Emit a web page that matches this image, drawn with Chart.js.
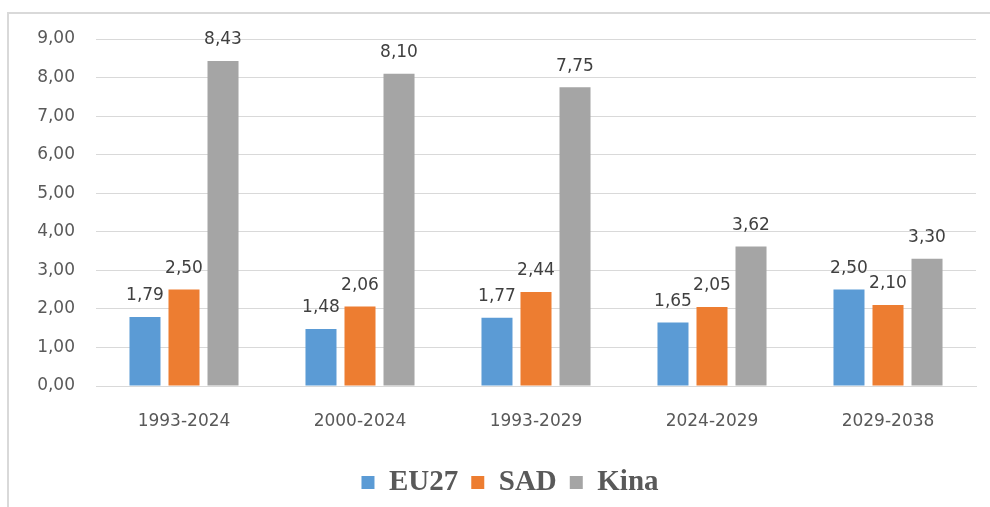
<!DOCTYPE html>
<html>
<head>
<meta charset="utf-8">
<script src="https://cdn.jsdelivr.net/npm/chart.js@4/dist/chart.umd.min.js"></script>
<style>
  html, body { margin: 0; padding: 0; background: #fff; overflow: hidden; }
  #wrap { width: 990px; height: 507px; position: relative; }
</style>
</head>
<body>
<div id="wrap"><canvas id="c" width="990" height="507"></canvas></div>
<script>
const categories = ['1993-2024', '2000-2024', '1993-2029', '2024-2029', '2029-2038'];
const eu27 = [1.79, 1.48, 1.77, 1.65, 2.50];
const sad = [2.50, 2.06, 2.44, 2.05, 2.10];
const kina = [8.43, 8.10, 7.75, 3.62, 3.30];
const seriesNames = ['EU27', 'SAD', 'Kina'];
const yTicks = [0, 1, 2, 3, 4, 5, 6, 7, 8, 9];

const fmt = v => v.toFixed(2).replace('.', ',');

const framePlugin = {
  id: 'frame',
  beforeDraw(chart) {
    const ctx = chart.ctx;
    ctx.save();
    ctx.strokeStyle = '#d9d9d9';
    ctx.lineWidth = 2;
    ctx.beginPath();
    ctx.moveTo(8, 507);
    ctx.lineTo(8, 13);
    ctx.lineTo(990, 13);
    ctx.stroke();
    ctx.restore();
  }
};

const legendShift = {
  id: 'legendShift',
  afterLayout(chart) {
    if (chart.legend) {
      chart.legend.left += 22;
      chart.legend.right += 22;
    }
  }
};

const labelPlugin = {
  id: 'valueLabels',
  afterDatasetsDraw(chart) {
    const ctx = chart.ctx;
    ctx.save();
    ctx.font = '17px "DejaVu Sans"';
    ctx.fillStyle = '#404040';
    ctx.textAlign = 'center';
    ctx.textBaseline = 'middle';
    chart.data.datasets.forEach((ds, i) => {
      chart.getDatasetMeta(i).data.forEach((bar, j) => {
        ctx.fillText(fmt(ds.data[j]), bar.x, bar.y - 21);
      });
    });
    ctx.restore();
  }
};

new Chart(document.getElementById('c'), {
  type: 'bar',
  data: {
    labels: categories,
    datasets: [
      { label: seriesNames[0], data: eu27, backgroundColor: '#5B9BD5' },
      { label: seriesNames[1], data: sad, backgroundColor: '#ED7D31' },
      { label: seriesNames[2], data: kina, backgroundColor: '#A5A5A5' }
    ]
  },
  options: {
    responsive: false,
    animation: false,
    categoryPercentage: 0.665,
    barPercentage: 0.795,
    layout: { padding: { top: 39, right: 14, left: 0, bottom: 0 } },
    plugins: {
      tooltip: { enabled: false },
      legend: {
        position: 'bottom',
        labels: {
          boxWidth: 13,
          boxHeight: 13,
          padding: 13,
          color: '#595959',
          font: { family: '"Liberation Serif"', size: 29, weight: 'bold' }
        }
      }
    },
    scales: {
      x: {
        grid: { display: false, drawTicks: false },
        border: { color: '#d9d9d9' },
        ticks: { color: '#595959', font: { family: '"DejaVu Sans"', size: 17 }, padding: 25 },
        afterFit(scale) { scale.height = 69; }
      },
      y: {
        min: 0,
        max: 9,
        afterBuildTicks(scale) { scale.ticks = yTicks.map(v => ({ value: v })); },
        grid: { color: '#d9d9d9', drawTicks: false },
        border: { display: false },
        ticks: {
          color: '#595959',
          font: { family: '"DejaVu Sans"', size: 17 },
          padding: 21,
          callback: v => fmt(v)
        },
        afterFit(scale) { scale.width = 96; }
      }
    }
  },
  plugins: [framePlugin, legendShift, labelPlugin]
});
</script>
</body>
</html>
